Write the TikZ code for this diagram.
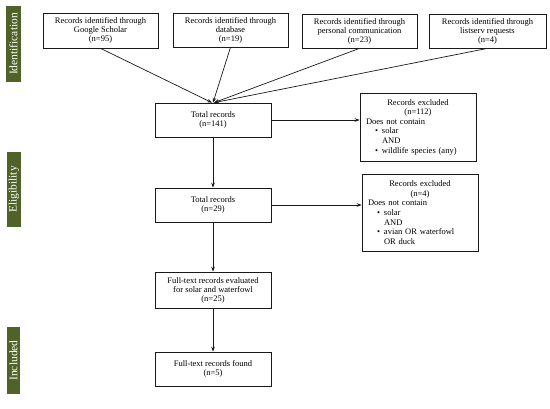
\documentclass[tikz,border=0pt]{standalone}
\usepackage{fontspec}
\setmainfont{Liberation Serif}
\usetikzlibrary{arrows.meta,calc}
\definecolor{olivebar}{HTML}{4F6228}
\begin{document}
\begin{tikzpicture}[x=1pt,y=-1pt,
  box/.style={draw=black!90,line width=0.7pt,fill=white,align=center,inner sep=2pt,
    font=\fontsize{8.5}{9}\selectfont},
  exbox/.style={draw=black!90,line width=0.7pt,fill=white,align=left,inner xsep=6pt,inner ysep=2pt,
    text width=104pt,font=\fontsize{8.5}{9.6}\selectfont},
  phase/.style={fill=olivebar,inner sep=0pt},
  phasetext/.style={text=white,rotate=90,font=\fontsize{11.5}{12}\selectfont},
  arr/.style={-{Stealth[length=5pt,width=3.6pt]},line width=0.7pt,black!90}]
\useasboundingbox (0,0) rectangle (550,408);
% phase labels
\node[phase,minimum width=15pt,minimum height=76pt] (pid) at (13.5,44) {};
\node[phasetext] (pidt) at (pid.center) {Identification};
\node[phase,minimum width=14pt,minimum height=75pt] (pel) at (14,189.5) {};
\node[phasetext] (pelt) at (pel.center) {Eligibility};
\node[phase,minimum width=13pt,minimum height=67pt] (pin) at (13.5,360.5) {};
\node[phasetext] (pint) at (pin.center) {Included};
% top boxes
\node[box,minimum width=115pt,minimum height=35pt] (gs) at (100.5,30.5) {Records identified through\\Google Scholar\\(n=95)};
\node[box,minimum width=115pt,minimum height=34pt] (db) at (230.5,30) {Records identified through\\database\\(n=19)};
\node[box,minimum width=115pt,minimum height=34pt] (pc) at (359.5,31) {Records identified through\\personal communication\\(n=23)};
\node[box,minimum width=117pt,minimum height=34pt] (ls) at (487.5,31) {Records identified through\\listserv requests\\(n=4)};
% main column
\node[box,minimum width=116pt,minimum height=34pt] (t1) at (213,120) {Total records\\(n=141)};
\node[box,minimum width=116pt,minimum height=34pt] (t2) at (213,205) {Total records\\(n=29)};
\node[box,minimum width=116pt,minimum height=36pt] (ft) at (213,290) {Full-text records evaluated\\for solar and waterfowl\\(n=25)};
\node[box,minimum width=116pt,minimum height=34pt] (fd) at (213,369) {Full-text records found\\(n=5)};
% excluded boxes
\node[exbox,minimum height=68pt] (e1) at (418,127) {{\centering Records excluded\\(n=112)\par}
Does not contain\\
\hspace*{9pt}\makebox[7pt][l]{\textbullet}solar\\
\hspace*{16pt}AND\\
\hspace*{9pt}\makebox[7pt][l]{\textbullet}wildlife species (any)};
\node[exbox,minimum height=77pt] (e2) at (420,212.5) {{\centering Records excluded\\(n=4)\par}
Does not contain\\
\hspace*{9pt}\makebox[7pt][l]{\textbullet}solar\\
\hspace*{16pt}AND\\
\hspace*{9pt}\makebox[7pt][l]{\textbullet}avian OR waterfowl\\
\hspace*{16pt}OR duck};
% connectors
\draw[arr] (gs.south) -- ($(t1.north)+(-1,0)$);
\draw[arr] (db.south) -- ($(t1.north)+(0,0)$);
\draw[arr] (pc.south) -- ($(t1.north)+(1,0)$);
\draw[arr] (ls.south) -- ($(t1.north)+(1,0)$);
\draw[arr] (t1.east) -- (t1.east -| e1.west);
\draw[arr] (t2.east) -- (t2.east -| e2.west);
\draw[arr] (t1.south) -- (t2.north);
\draw[arr] (t2.south) -- (ft.north);
\draw[arr] (ft.south) -- (fd.north);
\end{tikzpicture}
\end{document}
